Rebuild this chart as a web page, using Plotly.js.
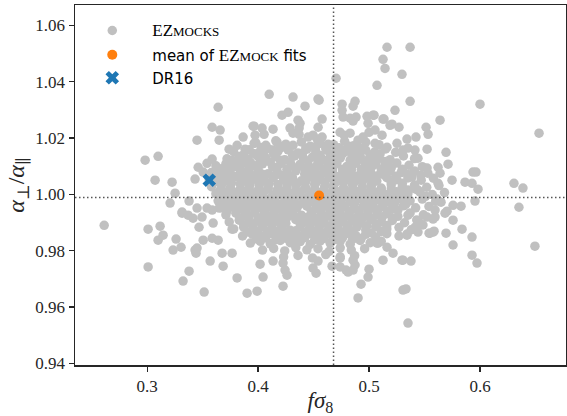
<!DOCTYPE html>
<html>
<head>
<meta charset="utf-8">
<script src="https://cdn.plot.ly/plotly-3.0.1.min.js"></script>
<style>html,body{margin:0;padding:0;background:#fff;}#chart{width:567px;height:416px;}</style>
</head>
<body>
<div id="chart"></div>
<script>
// EZmock fits, [f sigma8, alpha_perp/alpha_par]
const ezmockOutliers = [
[0.410,1.0355],[0.4315,1.0345],[0.364,1.0309],[0.4216,1.0281],[0.427,1.0291],[0.4423,1.0313],[0.454,1.0338],
[0.3586,1.0238],[0.3658,1.0228],[0.345,1.0192],[0.3649,1.0192],[0.2982,1.0121],[0.3099,1.0135],[0.3072,1.005],
[0.3225,1.0043],[0.3432,1.0054],[0.346,1.0096],[0.354,1.011],[0.3586,1.0125],[0.3865,1.0203],[0.3964,1.0242],
[0.4036,1.0235],[0.4135,1.0231],[0.436,1.0263],[0.437,1.0235],[0.5162,1.0522],[0.537,1.0522],[0.5126,1.0479],
[0.5144,1.0447],[0.5297,1.0426],[0.5072,1.0387],[0.4703,1.0412],[0.455,1.0334],[0.4757,1.032],[0.4757,1.0298],
[0.4766,1.0274],[0.4856,1.0313],[0.4874,1.033],[0.537,1.033],[0.5234,1.0298],[0.600,1.032],[0.6532,1.0217],
[0.564,1.0263],[0.5514,1.0238],[0.5532,1.0213],[0.5423,1.0203],[0.5045,1.0281],[0.5126,1.0267],[0.5189,1.0245],
[0.5207,1.0249],[0.4982,1.0277],[0.4991,1.0252],[0.4883,1.0274],[0.4856,1.026],[0.4577,1.0267],[0.4541,1.0238],
[0.5694,1.0149],[0.5712,1.0107],[0.5523,1.016],[0.5523,1.0093],[0.5622,1.0096],[0.564,1.0075],[0.5622,1.0039],
[0.5748,1.005],[0.5865,1.0043],[0.5937,1.0079],[0.5964,1.0079],[0.5928,1.0039],[0.5982,1.0018],[0.6306,1.0039],
[0.6387,1.0022],[0.6351,0.9954],[0.6495,0.9816],[0.5973,0.9756],[0.5928,0.9784],[0.5928,0.9848],[0.5838,0.9876],
[0.5757,0.982],[0.5694,0.9862],[0.5757,0.9908],[0.5757,0.9961],[0.5829,0.9958],[0.5955,0.9976],[0.5333,0.9664],
[0.5351,0.9543],[0.4901,0.9632],[0.4928,0.9681],[0.4991,0.9706],[0.500,0.9734],[0.5306,0.9766],[0.5378,0.9763],
[0.5126,0.9766],[0.5342,0.9859],[0.5577,0.9866],[0.5541,0.9862],[0.5081,0.9827],[0.4523,0.972],[0.4495,0.9738],
[0.454,0.9763],[0.4667,0.9745],[0.4739,0.9742],[0.4811,0.9724],[0.4856,0.9731],[0.2613,0.989],[0.3009,0.9876],
[0.3009,0.9742],[0.3117,0.9887],[0.3144,0.9855],[0.3099,0.9837],[0.3261,0.9841],[0.3234,0.9802],[0.3306,0.9812],
[0.3378,0.9727],[0.3324,0.9692],[0.3514,0.9653],[0.3432,0.9802],[0.3441,0.9791],[0.3568,0.9763],[0.3685,0.9745],
[0.3811,0.9703],[0.3901,0.9649],[0.3991,0.9656],[0.4045,0.9706],[0.4225,0.9674],[0.4261,0.9713],[0.4243,0.9731],
[0.4135,0.9763],[0.4018,0.9752],[0.3207,0.9969],[0.3252,1.0004],[0.3315,0.9937],[0.3468,0.9883],[0.3595,0.9898],
[0.4225,0.9756],[0.4739,0.9773],[0.4793,0.9731],[0.4856,0.9766],[0.4874,0.9749],[0.5072,0.9827],[0.5162,0.9812],
[0.5216,0.9791],[0.5297,0.9766],[0.5306,0.966],[0.5342,1.0196],[0.5351,1.0164],[0.5414,1.0157],[0.5441,1.0128],
[0.5468,1.0068],[0.5387,1.0061],[0.5685,0.9933],[0.5703,0.994],[0.5595,0.9944],[0.5577,0.9912],[0.5595,0.9919],
[0.5523,0.9919],[0.5459,0.9898],[0.5486,0.9891],[0.5414,0.9883],[0.5441,0.9866],[0.555,0.9862],[0.5586,0.9869],
[0.5351,0.9926],[0.5342,0.9855],[0.5613,0.9983],[0.5649,0.9972],[0.5441,1.0015],[0.5351,1.0015],[0.3739,1.016],
[0.3811,1.0174],[0.3505,1.0079],[0.3595,1.0075],[0.373,1.0079],[0.3766,1.0121],[0.3955,1.0242],[0.4054,1.0213],
[0.3973,1.021],[0.4288,1.0235],[0.4315,1.0217],[0.4369,1.0213],[0.445,1.0203],[0.4495,1.021],[0.4532,1.0196],
[0.4577,1.0203],[0.3883,1.016],[0.3964,1.0181],[0.4171,1.0185],[0.4216,1.0167],[0.4135,1.0157],[0.4315,1.0174],
[0.4622,1.0157],[0.4631,1.0178],[0.4739,1.022],[0.4775,1.021],[0.4829,1.0217],[0.4901,1.0192],[0.4946,1.0203],
[0.500,1.022],[0.5054,1.0228],[0.5117,1.021],[0.5162,1.0167],[0.5252,1.0181],[0.5306,1.0157],[0.5054,1.0181],
[0.4766,1.0146],[0.4856,1.0139],[0.4919,1.0132],[0.4829,1.027],[0.5036,1.0281],[0.5135,1.0267],[0.527,1.0238],
[0.4378,1.0252],[0.3378,0.9976],[0.345,0.9951],[0.354,0.9951],[0.3586,0.9944],[0.3649,0.9951],[0.3315,0.9933],
[0.3369,0.9926],[0.3414,0.9915],[0.3495,0.9919],[0.3766,0.9876],[0.3586,0.9844],[0.3505,0.9837],[0.345,0.9809],
[0.3676,0.9791],[0.3766,0.9791],[0.364,0.9837]
];
const ezmockCore = [
[0.398,1.0183],[0.407,1.0174],[0.416,1.0190],[0.425,1.0178],[0.439,1.0186],[0.447,1.0171],[0.456,1.0181],[0.468,1.0176],[0.478,1.0188],[0.486,1.0172],[0.497,1.0185],[0.509,1.0176],
[0.378,1.0151],[0.392,1.0158],[0.401,1.0149],[0.409,1.0162],[0.418,1.0153],[0.427,1.0158],[0.436,1.0147],[0.444,1.0160],[0.452,1.0152],[0.461,1.0162],[0.470,1.0150],[0.479,1.0158],[0.488,1.0146],[0.497,1.0157],[0.505,1.0150],[0.515,1.0161],[0.524,1.0149],
[0.372,1.0126],[0.383,1.0134],[0.391,1.0124],[0.399,1.0137],[0.407,1.0129],[0.416,1.0133],[0.424,1.0123],[0.433,1.0136],[0.441,1.0127],[0.449,1.0132],[0.458,1.0124],[0.466,1.0135],[0.474,1.0128],[0.483,1.0121],[0.492,1.0134],[0.500,1.0126],[0.509,1.0131],[0.519,1.0123],[0.531,1.0136],[0.541,1.0127],
[0.362,1.0101],[0.371,1.0108],[0.379,1.0099],[0.388,1.0112],[0.396,1.0103],[0.404,1.0108],[0.413,1.0098],[0.421,1.0110],[0.430,1.0102],[0.438,1.0107],[0.446,1.0097],[0.455,1.0111],[0.463,1.0104],[0.471,1.0108],[0.480,1.0099],[0.488,1.0110],[0.497,1.0102],[0.506,1.0107],[0.515,1.0099],[0.525,1.0111],[0.536,1.0103],[0.548,1.0098],
[0.358,1.0077],[0.366,1.0084],[0.375,1.0074],[0.384,1.0086],[0.392,1.0078],[0.400,1.0082],[0.409,1.0073],[0.417,1.0085],[0.426,1.0076],[0.434,1.0083],[0.442,1.0072],[0.451,1.0086],[0.459,1.0078],[0.467,1.0083],[0.476,1.0074],[0.484,1.0085],[0.493,1.0077],[0.501,1.0082],[0.510,1.0072],[0.519,1.0084],[0.529,1.0077],[0.541,1.0083],[0.553,1.0075],
[0.356,1.0052],[0.364,1.0058],[0.372,1.0049],[0.381,1.0061],[0.389,1.0053],[0.397,1.0057],[0.406,1.0047],[0.414,1.0060],[0.423,1.0051],[0.431,1.0058],[0.439,1.0048],[0.448,1.0061],[0.456,1.0053],[0.465,1.0058],[0.473,1.0049],[0.482,1.0060],[0.490,1.0052],[0.499,1.0057],[0.507,1.0047],[0.516,1.0059],[0.525,1.0052],[0.535,1.0058],[0.547,1.0050],[0.558,1.0057],
[0.358,1.0027],[0.367,1.0033],[0.375,1.0024],[0.384,1.0036],[0.392,1.0028],[0.401,1.0032],[0.409,1.0022],[0.418,1.0035],[0.426,1.0026],[0.434,1.0033],[0.443,1.0023],[0.451,1.0036],[0.460,1.0028],[0.468,1.0033],[0.477,1.0024],[0.485,1.0035],[0.494,1.0027],[0.502,1.0032],[0.511,1.0022],[0.520,1.0034],[0.530,1.0027],[0.541,1.0033],[0.552,1.0025],[0.563,1.0031],
[0.362,1.0002],[0.371,1.0008],[0.379,0.9999],[0.388,1.0011],[0.396,1.0003],[0.405,1.0007],[0.413,0.9997],[0.422,1.0010],[0.430,1.0001],[0.438,1.0008],[0.447,0.9998],[0.456,1.0006],[0.464,1.0002],[0.473,1.0009],[0.481,0.9999],[0.490,1.0010],[0.498,1.0002],[0.507,1.0007],[0.516,0.9998],[0.525,1.0009],[0.535,1.0002],[0.546,1.0008],[0.557,0.9999],[0.568,1.0006],
[0.364,0.9977],[0.373,0.9983],[0.381,0.9974],[0.390,0.9986],[0.398,0.9978],[0.407,0.9982],[0.415,0.9972],[0.424,0.9985],[0.432,0.9976],[0.441,0.9983],[0.449,0.9973],[0.458,0.9986],[0.466,0.9978],[0.475,0.9983],[0.483,0.9973],[0.492,0.9985],[0.500,0.9977],[0.509,0.9982],[0.518,0.9972],[0.527,0.9984],[0.537,0.9977],[0.548,0.9983],[0.560,0.9975],
[0.367,0.9952],[0.376,0.9958],[0.384,0.9949],[0.393,0.9961],[0.401,0.9953],[0.410,0.9957],[0.418,0.9947],[0.427,0.9960],[0.435,0.9951],[0.444,0.9958],[0.452,0.9948],[0.461,0.9961],[0.469,0.9953],[0.478,0.9958],[0.486,0.9948],[0.495,0.9960],[0.503,0.9952],[0.512,0.9957],[0.521,0.9947],[0.531,0.9959],[0.542,0.9952],[0.554,0.9957],
[0.371,0.9927],[0.380,0.9933],[0.388,0.9924],[0.397,0.9936],[0.405,0.9928],[0.414,0.9932],[0.422,0.9922],[0.431,0.9935],[0.439,0.9926],[0.448,0.9933],[0.456,0.9923],[0.465,0.9936],[0.473,0.9928],[0.482,0.9933],[0.490,0.9923],[0.499,0.9935],[0.507,0.9927],[0.516,0.9932],[0.526,0.9922],[0.537,0.9934],[0.549,0.9927],
[0.374,0.9902],[0.383,0.9908],[0.391,0.9899],[0.400,0.9911],[0.408,0.9903],[0.417,0.9907],[0.425,0.9897],[0.434,0.9910],[0.442,0.9901],[0.451,0.9908],[0.459,0.9898],[0.468,0.9911],[0.476,0.9903],[0.485,0.9908],[0.493,0.9898],[0.502,0.9910],[0.511,0.9902],[0.521,0.9907],[0.532,0.9899],[0.543,0.9909],
[0.378,0.9877],[0.387,0.9883],[0.395,0.9874],[0.404,0.9886],[0.412,0.9878],[0.421,0.9882],[0.429,0.9872],[0.438,0.9885],[0.446,0.9876],[0.455,0.9883],[0.463,0.9873],[0.472,0.9886],[0.480,0.9878],[0.489,0.9883],[0.497,0.9873],[0.506,0.9885],[0.516,0.9877],[0.527,0.9882],[0.538,0.9874],
[0.386,0.9852],[0.395,0.9858],[0.403,0.9849],[0.412,0.9861],[0.420,0.9853],[0.429,0.9857],[0.437,0.9847],[0.446,0.9860],[0.454,0.9851],[0.463,0.9858],[0.471,0.9848],[0.480,0.9861],[0.488,0.9853],[0.497,0.9858],[0.506,0.9848],[0.516,0.9860],[0.527,0.9852],
[0.393,0.9827],[0.402,0.9833],[0.411,0.9824],[0.420,0.9836],[0.429,0.9828],[0.438,0.9832],[0.447,0.9822],[0.456,0.9835],[0.465,0.9826],[0.474,0.9833],[0.483,0.9823],[0.492,0.9836],[0.501,0.9828],[0.511,0.9833],
[0.404,0.9802],[0.414,0.9808],[0.424,0.9799],[0.434,0.9811],[0.444,0.9803],[0.454,0.9807],[0.464,0.9797],[0.474,0.9810],[0.484,0.9802],[0.496,0.9807],
[0.423,0.9777],[0.436,0.9783],[0.449,0.9774],[0.461,0.9786],[0.474,0.9778],[0.487,0.9782]
];
const ezmockDense = [
[0.403,1.0166],[0.420,1.0170],[0.443,1.0164],[0.452,1.0169],[0.473,1.0165],[0.482,1.0171],[0.492,1.0163],
[0.387,1.0141],[0.396,1.0145],[0.405,1.0139],[0.414,1.0144],[0.431,1.0140],[0.440,1.0146],[0.456,1.0138],[0.465,1.0143],[0.475,1.0139],[0.484,1.0145],[0.501,1.0140],[0.510,1.0144],
[0.376,1.0116],[0.384,1.0120],[0.393,1.0113],[0.402,1.0119],[0.411,1.0115],[0.420,1.0121],[0.429,1.0114],[0.445,1.0118],[0.454,1.0113],[0.462,1.0120],[0.470,1.0115],[0.487,1.0119],[0.496,1.0114],[0.505,1.0120],[0.514,1.0116],
[0.367,1.0091],[0.375,1.0095],[0.384,1.0089],[0.392,1.0094],[0.400,1.0090],[0.417,1.0096],[0.426,1.0089],[0.434,1.0093],[0.442,1.0088],[0.451,1.0095],[0.459,1.0090],[0.467,1.0094],[0.476,1.0088],[0.484,1.0093],[0.493,1.0089],[0.502,1.0095],[0.511,1.0090],[0.520,1.0094],[0.530,1.0089],
[0.362,1.0066],[0.371,1.0070],[0.379,1.0064],[0.388,1.0069],[0.396,1.0065],[0.404,1.0071],[0.413,1.0064],[0.421,1.0068],[0.430,1.0063],[0.446,1.0070],[0.455,1.0065],[0.463,1.0069],[0.471,1.0063],[0.480,1.0068],[0.488,1.0064],[0.497,1.0070],[0.505,1.0065],[0.514,1.0069],[0.524,1.0064],[0.535,1.0070],
[0.360,1.0041],[0.368,1.0045],[0.376,1.0039],[0.385,1.0044],[0.393,1.0040],[0.401,1.0046],[0.410,1.0039],[0.427,1.0043],[0.435,1.0038],[0.443,1.0045],[0.452,1.0040],[0.460,1.0044],[0.469,1.0038],[0.477,1.0043],[0.486,1.0039],[0.494,1.0045],[0.503,1.0040],[0.520,1.0044],[0.530,1.0039],
[0.366,1.0016],[0.375,1.0020],[0.383,1.0014],[0.392,1.0019],[0.400,1.0015],[0.409,1.0021],[0.417,1.0014],[0.426,1.0018],[0.434,1.0013],[0.442,1.0020],[0.451,1.0018],[0.459,1.0015],[0.468,1.0019],[0.477,1.0013],[0.485,1.0018],[0.494,1.0014],[0.502,1.0020],[0.511,1.0015],[0.520,1.0019],[0.530,1.0014],[0.541,1.0020],
[0.366,0.9991],[0.375,0.9995],[0.384,0.9989],[0.392,0.9994],[0.401,0.9990],[0.418,0.9996],[0.426,0.9989],[0.435,0.9993],[0.443,0.9988],[0.452,0.9995],[0.460,0.9990],[0.469,0.9994],[0.477,0.9988],[0.486,0.9993],[0.494,0.9989],[0.503,0.9995],[0.512,0.9990],[0.521,0.9994],[0.531,0.9989],[0.551,0.9993],
[0.369,0.9966],[0.377,0.9970],[0.386,0.9964],[0.394,0.9969],[0.403,0.9965],[0.411,0.9971],[0.420,0.9964],[0.428,0.9968],[0.437,0.9963],[0.445,0.9970],[0.454,0.9965],[0.462,0.9969],[0.471,0.9963],[0.487,0.9968],[0.496,0.9964],[0.504,0.9970],[0.513,0.9965],[0.523,0.9969],[0.533,0.9964],
[0.372,0.9941],[0.380,0.9945],[0.389,0.9939],[0.397,0.9944],[0.406,0.9940],[0.414,0.9946],[0.423,0.9939],[0.431,0.9943],[0.448,0.9938],[0.457,0.9945],[0.465,0.9940],[0.474,0.9944],[0.482,0.9938],[0.491,0.9943],[0.499,0.9939],[0.508,0.9945],[0.517,0.9940],[0.526,0.9944],
[0.384,0.9916],[0.392,0.9920],[0.401,0.9914],[0.410,0.9919],[0.418,0.9915],[0.427,0.9921],[0.435,0.9914],[0.444,0.9918],[0.452,0.9913],[0.461,0.9920],[0.469,0.9915],[0.478,0.9919],[0.486,0.9913],[0.495,0.9918],[0.503,0.9914],[0.512,0.9920],[0.521,0.9915],
[0.387,0.9891],[0.396,0.9895],[0.404,0.9889],[0.413,0.9894],[0.421,0.9890],[0.438,0.9896],[0.447,0.9889],[0.455,0.9893],[0.464,0.9888],[0.472,0.9895],[0.481,0.9890],[0.489,0.9894],[0.498,0.9888],[0.507,0.9893],[0.516,0.9889],
[0.391,0.9866],[0.400,0.9870],[0.408,0.9864],[0.417,0.9869],[0.425,0.9865],[0.434,0.9871],[0.442,0.9864],[0.451,0.9868],[0.459,0.9863],[0.468,0.9870],[0.476,0.9865],[0.485,0.9869],[0.502,0.9863],[0.511,0.9868],
[0.399,0.9841],[0.407,0.9845],[0.416,0.9839],[0.425,0.9844],[0.433,0.9840],[0.442,0.9846],[0.451,0.9839],[0.459,0.9843],[0.468,0.9838],[0.476,0.9845],[0.485,0.9840],[0.493,0.9844]
];
const meanFit = {x: [0.455], y: [0.9996], ex: [0.0017], ey: [0.0004]};
const dr16 = {x: [0.356], y: [1.005]};
const refFsigma8 = 0.468;
const refRatio = 0.9989;
const xTicks = [0.3, 0.4, 0.5, 0.6];
const yTicks = [0.94, 0.96, 0.98, 1.00, 1.02, 1.04, 1.06];

const allMocks = ezmockOutliers.concat(ezmockCore, ezmockDense);
const mockX = allMocks.map(p => p[0]);
const mockY = allMocks.map(p => p[1]);

const serif = 'Liberation Serif, DejaVu Serif, serif';
const sans = 'DejaVu Sans, sans-serif';
const sc = (big, small) => '<span style="font-family:Liberation Serif;font-size:17px">' + big + '</span><span style="font-family:Liberation Serif;font-size:13px">' + small + '</span>';

const traces = [
  {
    type: 'scatter', mode: 'markers', x: mockX, y: mockY, legend: 'legend',
    name: '\u2003' + sc('EZ', 'MOCKS'),
    marker: {color: '#c0c0c0', size: 9.5}
  },
  {
    type: 'scatter', mode: 'markers', x: meanFit.x, y: meanFit.y, legend: 'legend2',
    name: '\u2003mean of ' + sc('EZ', 'MOCK') + ' fits',
    marker: {color: '#ff7f0e', size: 10},
    error_x: {type: 'data', array: meanFit.ex, color: '#ff7f0e', thickness: 1.5, width: 0},
    error_y: {type: 'data', array: meanFit.ey, color: '#ff7f0e', thickness: 1.5, width: 0}
  },
  {
    type: 'scatter', mode: 'markers', x: dr16.x, y: dr16.y, name: '\u2003DR16', legend: 'legend3',
    marker: {color: '#1f77b4', size: 12, symbol: 'x'}
  }
];

const legendBase = (yc) => ({
  x: 0.025, y: yc, xanchor: 'left', yanchor: 'middle',
  bgcolor: 'rgba(0,0,0,0)', font: {family: sans, size: 15, color: '#000'},
  itemwidth: 40, borderwidth: 0
});

const layout = {
  width: 567, height: 416,
  margin: {l: 75, r: 1, t: 5, b: 51},
  paper_bgcolor: '#fff', plot_bgcolor: '#fff',
  showlegend: true,
  legend: legendBase(0.9285),
  legend2: legendBase(0.8611),
  legend3: legendBase(0.7972),
  xaxis: {
    range: [0.235, 0.6775], tickvals: xTicks, ticktext: xTicks.map(v => v.toFixed(1)),
    showgrid: false, zeroline: false, showline: true, mirror: true,
    linecolor: '#262626', linewidth: 1.5, ticks: 'outside', ticklen: 5, tickwidth: 1.2, tickcolor: '#262626',
    tickfont: {family: serif, size: 17, color: '#262626'},
    title: {text: '<i>fσ</i><sub>8</sub>', font: {family: serif, size: 23, color: '#262626'}, standoff: 1}
  },
  yaxis: {
    range: [0.9394, 1.0672], tickvals: yTicks, ticktext: yTicks.map(v => v.toFixed(2)),
    showgrid: false, zeroline: false, showline: true, mirror: true,
    linecolor: '#262626', linewidth: 1.5, ticks: 'outside', ticklen: 5, tickwidth: 1.2, tickcolor: '#262626',
    tickfont: {family: serif, size: 17, color: '#262626'},
    title: {text: '<i>α</i><sub>⊥</sub>/<i>α</i><sub>∥</sub>', font: {family: serif, size: 24, color: '#262626'}, standoff: 4}
  },
  shapes: [
    {type: 'line', xref: 'x', yref: 'paper', x0: refFsigma8, x1: refFsigma8, y0: 0, y1: 1,
     line: {color: '#555', width: 1.5, dash: '1.5px,2.5px'}, layer: 'above'},
    {type: 'line', xref: 'paper', yref: 'y', x0: 0, x1: 1, y0: refRatio, y1: refRatio,
     line: {color: '#555', width: 1.5, dash: '1.5px,2.5px'}, layer: 'above'}
  ]
};

Plotly.newPlot('chart', traces, layout, {staticPlot: true, displayModeBar: false});
</script>
</body>
</html>
